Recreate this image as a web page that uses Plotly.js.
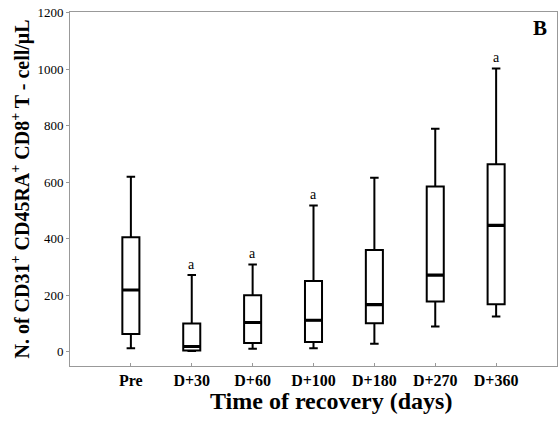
<!DOCTYPE html>
<html>
<head>
<meta charset="utf-8">
<script src="https://cdn.plot.ly/plotly-3.0.1.min.js"></script>
<style>html,body{margin:0;padding:0;background:#fff}#chart{width:558px;height:425px}</style>
</head>
<body>
<div id="chart"></div>
<script>
var categories = ['Pre', 'D+30', 'D+60', 'D+100', 'D+180', 'D+270', 'D+360'];
var lowerWhisker = [13, 3, 11, 13, 29, 90, 125];
var q1Values = [63, 5, 31, 35, 101, 178, 169];
var medianValues = [219, 19, 104, 112, 167, 272, 448];
var q3Values = [406, 100, 200, 251, 361, 585, 664];
var upperWhisker = [620, 272, 309, 518, 616, 790, 1003];
var sigLetters = ['', 'a', 'a', 'a', '', '', 'a'];
var yTicks = [0, 200, 400, 600, 800, 1000, 1200];

var serif = 'Liberation Serif';

var boxTrace = {
  type: 'box',
  x: categories,
  q1: q1Values,
  median: medianValues,
  q3: q3Values,
  lowerfence: lowerWhisker,
  upperfence: upperWhisker,
  boxpoints: false,
  line: {color: '#000', width: 2},
  fillcolor: '#fff',
  whiskerwidth: 0.5,
  hoverinfo: 'skip',
  showlegend: false
};
var medianTrace = {
  type: 'box',
  x: categories,
  q1: medianValues,
  median: medianValues,
  q3: medianValues,
  lowerfence: medianValues,
  upperfence: medianValues,
  boxpoints: false,
  line: {color: '#000', width: 3.2},
  fillcolor: 'rgba(0,0,0,0)',
  whiskerwidth: 0.5,
  hoverinfo: 'skip',
  showlegend: false
};

var annotations = [];
for (var i = 0; i < categories.length; i++) {
  if (sigLetters[i]) {
    annotations.push({
      x: categories[i], y: upperWhisker[i], xref: 'x', yref: 'y',
      text: sigLetters[i], showarrow: false, yshift: 11,
      font: {family: serif, size: 14, color: '#000'}
    });
  }
}
annotations.push({
  x: 0.965, y: 0.955, xref: 'paper', yref: 'paper',
  xanchor: 'center', yanchor: 'middle',
  text: '<b>B</b>', showarrow: false,
  font: {family: serif, size: 21, color: '#000'}
});
annotations.push({
  x: 0.536, y: -0.099, xref: 'paper', yref: 'paper',
  xanchor: 'center', yanchor: 'middle',
  text: '<b>Time of recovery (days)</b>', showarrow: false,
  font: {family: serif, size: 24, color: '#000'}
});

var layout = {
  width: 558, height: 425,
  margin: {l: 70, r: 1, t: 12, b: 59},
  paper_bgcolor: '#fff', plot_bgcolor: '#fff',
  boxmode: 'overlay',
  boxgap: 0.6,
  font: {family: serif, color: '#000'},
  xaxis: {
    type: 'category',
    range: [-1, 7],
    showline: true, linecolor: '#999', linewidth: 1, mirror: true,
    ticks: 'inside', ticklen: 3, tickcolor: '#999',
    showgrid: false, zeroline: false,
    tickfont: {family: serif, size: 16, color: '#000', weight: 'bold'}
  },
  yaxis: {
    range: [-50, 1203],
    tickvals: yTicks,
    ticktext: yTicks.map(String),
    showline: true, linecolor: '#999', linewidth: 1, mirror: true,
    ticks: 'outside', ticklen: 3, tickcolor: '#999',
    showgrid: false, zeroline: false,
    tickfont: {family: serif, size: 13, color: '#000'},
    title: {text: '<b>N. of CD31<sup>+</sup> CD45RA<sup>+</sup> CD8<sup>+</sup> T - cell/μL</b>', font: {family: serif, size: 20, color: '#000'}, standoff: 2}
  },
  annotations: annotations
};

Plotly.newPlot('chart', [boxTrace, medianTrace], layout, {displayModeBar: false, staticPlot: true});
</script>
</body>
</html>
